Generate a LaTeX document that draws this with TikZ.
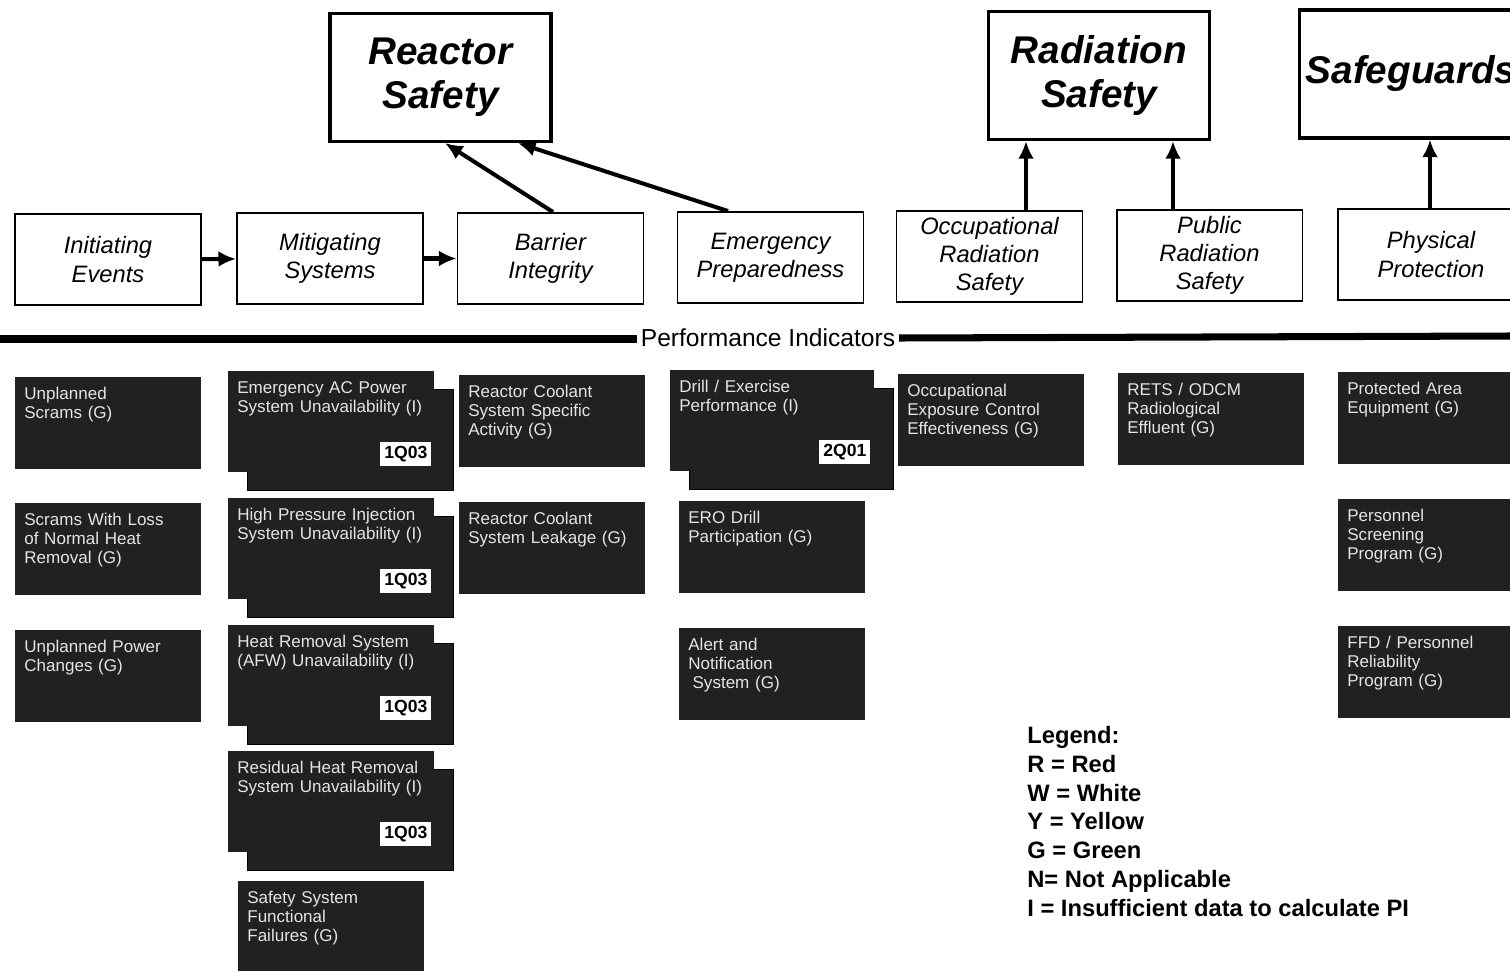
\documentclass[tikz,border=0pt]{standalone}
\usepackage{fontspec}
\setmainfont{Liberation Sans}
\usepackage{tikz}
\usetikzlibrary{arrows.meta,shadows}
\definecolor{pidark}{gray}{0.13}
\definecolor{pitext}{gray}{0.9}

\begin{document}
\begin{tikzpicture}[x=0.02cm, y=-0.02cm,
	corner/.style={draw, line width=1.8pt, minimum width=4.42cm, minimum height=2.56cm, align=center, font=\fontsize{22}{25}\selectfont\bfseries\itshape},
	area/.style={draw, line width=1.1pt, minimum width=3.72cm, minimum height=1.82cm, align=center, font=\fontsize{13.5}{16}\selectfont\itshape},
	arr/.style={line width=2.3pt, -{Latex[length=10pt,width=9pt]}},
	pibox/.style={anchor=north west, fill=pidark, text=pitext, align=left, font=\fontsize{9.7}{10.8}\selectfont, inner xsep=0.18cm, inner ysep=0.2cm, text width=3.36cm, text height=0.25cm, text depth=1.19cm},
	pistack/.style={pibox, text width=3.76cm, text depth=1.37cm, copy shadow={shadow xshift=0.38cm, shadow yshift=-0.36cm}},
	badge/.style={anchor=south east, fill=white, text=black, font=\fontsize{10}{12}\selectfont\bfseries, minimum width=1.02cm, minimum height=0.48cm, inner sep=0pt},
	]
	\useasboundingbox (0,0) rectangle (1510,970);

	% key attributes
	\node[corner] (reactor) at (440.5,77.5) {Reactor\\Safety};
	\node[corner] (radiation) at (1099,75.5) {Radiation\\Safety};
	\node[corner] (safeguards) at (1411,74) {Safeguards};

	% cornerstones
	\node[area] (init) at (108,259.5) {Initiating\\Events};
	\node[area] (mitig) at (330,258.5) {Mitigating\\Systems};
	\node[area] (barrier) at (550.5,258.5) {Barrier\\Integrity};
	\node[area] (emerg) at (770.5,257.5) {Emergency\\Preparedness};
	\node[area] (occ) at (989.5,256.5) {Occupational\\Radiation\\Safety};
	\node[area] (public) at (1209.5,255.5) {Public\\Radiation\\Safety};
	\node[area] (phys) at (1431,254.5) {Physical\\Protection};

	\draw[arr] (init) -- (mitig);
	\draw[arr] (mitig) -- (barrier);
	\draw[arr] ([xshift=0.05cm]barrier.north) -- ([xshift=0.09cm]reactor.south);
	\draw[arr] ([xshift=-0.85cm]emerg.north) -- ([xshift=1.55cm]reactor.south);
	\draw[arr] ([xshift=0.73cm]occ.north) coordinate (o1) -- (o1 |- radiation.south);
	\draw[arr] ([xshift=-0.73cm]public.north) coordinate (p1) -- (p1 |- radiation.south);
	\draw[arr] ([xshift=-0.02cm]phys.north) coordinate (s1) -- (s1 |- safeguards.south);

	% performance indicators bar
	\node[font=\fontsize{14}{16}\selectfont, inner xsep=2pt] (pind) at (768,338) {Performance Indicators};
	\coordinate (barl) at (0,339);
	\coordinate (barr) at (1510,336);
	\draw[line width=4pt] (barl) -- (barl -| pind.west);
	\draw[line width=4pt] (pind.east) -- (barr);

	% initiating events
	\node[pibox] (ie1) at (15,377) {Unplanned\\Scrams (G)};
	\node[pibox] (ie2) at (15,503) {Scrams With Loss\\of Normal Heat\\Removal (G)};
	\node[pibox] (ie3) at (15,630) {Unplanned Power\\Changes (G)};

	% mitigating systems
	\node[pistack] (ms1) at (228,371) {Emergency AC Power\\System Unavailability (I)};
	\node[badge] (ms1b) at ([xshift=-0.06cm,yshift=0.12cm]ms1.south east) {1Q03};
	\node[pistack] (ms2) at (228,498) {High Pressure Injection\\System Unavailability (I)};
	\node[badge] (ms2b) at ([xshift=-0.06cm,yshift=0.12cm]ms2.south east) {1Q03};
	\node[pistack] (ms3) at (228,625) {Heat Removal System\\(AFW) Unavailability (I)};
	\node[badge] (ms3b) at ([xshift=-0.06cm,yshift=0.12cm]ms3.south east) {1Q03};
	\node[pistack] (ms4) at (228,751) {Residual Heat Removal\\System Unavailability (I)};
	\node[badge] (ms4b) at ([xshift=-0.06cm,yshift=0.12cm]ms4.south east) {1Q03};
	\node[pibox] (ms5) at (238,881) {Safety System\\Functional\\Failures (G)};

	% barrier integrity
	\node[pibox] (bi1) at (459,375) {Reactor Coolant\\System Specific\\Activity (G)};
	\node[pibox] (bi2) at (459,502) {Reactor Coolant\\System Leakage (G)};

	% emergency preparedness
	\node[pistack, text width=3.72cm] (ep1) at (670,370) {Drill / Exercise\\Performance (I)};
	\node[badge] (ep1b) at ([xshift=-0.08cm,yshift=0.14cm]ep1.south east) {2Q01};
	\node[pibox] (ep2) at (679,501) {ERO Drill\\Participation (G)};
	\node[pibox] (ep3) at (679,628) {Alert and\\Notification\\\hspace{0.25em}System (G)};

	% radiation safety
	\node[pibox] (or1) at (898,374) {Occupational\\Exposure Control\\Effectiveness (G)};
	\node[pibox] (pr1) at (1118,373) {RETS / ODCM\\Radiological\\Effluent (G)};

	% physical protection
	\node[pibox] (pp1) at (1338,372) {Protected Area\\Equipment (G)};
	\node[pibox] (pp2) at (1338,499) {Personnel\\Screening\\Program (G)};
	\node[pibox] (pp3) at (1338,626) {FFD / Personnel\\Reliability\\Program (G)};

	% legend
	\node[anchor=north west, align=left, inner sep=0pt, font=\fontsize{13.5}{16.4}\selectfont\bfseries] (legend) at (1027,726) {Legend:\\R = Red\\W = White\\Y = Yellow\\G = Green\\N= Not Applicable\\I = Insufficient data to calculate PI};
\end{tikzpicture}
\end{document}
